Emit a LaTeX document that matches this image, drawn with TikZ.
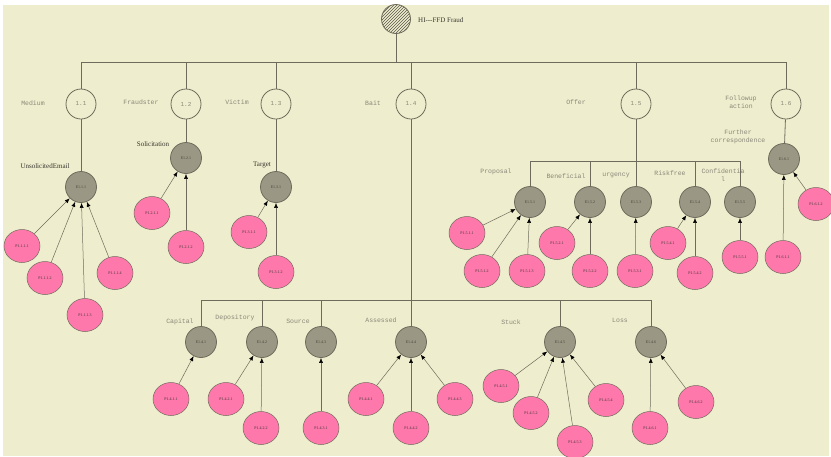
\documentclass[tikz,border=0pt]{standalone}
\usepackage{fontspec}
\usetikzlibrary{arrows.meta,patterns,shapes.geometric}
\definecolor{bg}{HTML}{EEEDCD}
\definecolor{ln}{HTML}{6F6B5C}
\definecolor{gfill}{HTML}{9A9884}
\definecolor{pfill}{HTML}{FF78AC}
\definecolor{lab}{HTML}{8A887A}
\newfontfamily\labfont{Liberation Mono}
\newfontfamily\serfont{Liberation Serif}
\begin{document}
\begin{tikzpicture}[x=1pt,y=-1pt,
  lvone/.style={circle, draw=ln, line width=0.8pt, fill=bg, minimum size=30pt, inner sep=0pt, font=\labfont\fontsize{6}{6}\selectfont, text=lab},
  evt/.style={circle, draw=ln, line width=0.8pt, fill=gfill, minimum size=31pt, inner sep=0pt, font=\serfont\fontsize{4}{4}\selectfont, text=ln!60!black},
  leaf/.style={ellipse, draw=ln, line width=0.5pt, fill=pfill, minimum width=36pt, minimum height=33pt, inner sep=0pt, font=\serfont\fontsize{4}{4}\selectfont, text=ln!50!black},
  conn/.style={draw=ln, line width=0.8pt},
  arr/.style={draw=ln, line width=0.5pt, -{Latex[length=5pt,width=4pt,color=black]}},
  lbl/.style={font=\labfont\fontsize{6.5}{7.5}\selectfont, text=lab, align=center, inner sep=0pt},
  blbl/.style={font=\serfont\fontsize{7}{7}\selectfont, text=ln!50!black, inner sep=0pt}
]
\fill[white] (0,0) rectangle (831,456);
\fill[bg] (3,5) rectangle (829,456);
\useasboundingbox (0,0) rectangle (831,456);

% root
\node[circle, draw=ln, line width=0.8pt, minimum size=29pt, inner sep=0pt, pattern=north east lines, pattern color=ln!80!black] (root) at (396,19) {};
\node[blbl, anchor=west] (roottxt) at (418,20) {HI---FFD Fraud};

% bus level 1
\coordinate (b1) at (81,62);
\coordinate (b2) at (186,62);
\coordinate (b3) at (276,62);
\coordinate (b4) at (411,62);
\coordinate (b5) at (636,62);
\coordinate (b6) at (786,62);
\coordinate (br) at (396,62);
\draw[conn] (b1) -- (b6);
\draw[conn] (root) -- (br);

% level 1 nodes
\node[lvone] (n11) at (81,104) {1.1};
\node[lvone] (n12) at (186,104) {1.2};
\node[lvone] (n13) at (276,104) {1.3};
\node[lvone] (n14) at (411,104) {1.4};
\node[lvone] (n15) at (636,104) {1.5};
\node[lvone] (n16) at (786,104) {1.6};
\foreach \i in {1,...,6} {\draw[conn] (b\i) -- (n1\i);}

\node[lbl] (lmed) at (33,103) {Medium};
\node[lbl] (lfra) at (141,102) {Fraudster};
\node[lbl] (lvic) at (237,102) {Victim};
\node[lbl] (lbai) at (373,103) {Bait};
\node[lbl] (loff) at (576,102) {Offer};
\node[lbl] (lfol) at (741,102) {Followup\\action};
\node[lbl] (lfur) at (738,137) {Further\\correspondence};

% 1.1 branch
\node[evt] (e111) at (81,187) {E1.1.1};
\node[blbl] (luns) at (45,166) {UnsolicitedEmail};
\draw[conn] (n11) -- (e111);
\node[leaf] (p1111) at (22,246) {P1.1.1.1};
\node[leaf] (p1112) at (45,278) {P1.1.1.2};
\node[leaf] (p1113) at (85,315) {P1.1.1.3};
\node[leaf] (p1114) at (115,273) {P1.1.1.4};
\draw[arr] (p1111) -- (e111);
\draw[arr] (p1112) -- (e111);
\draw[arr] (p1113) -- (e111);
\draw[arr] (p1114) -- (e111);

% 1.2 branch
\node[evt] (e121) at (186,158) {E1.2.1};
\node[blbl] (lsol) at (153,144) {Solicitation};
\draw[conn] (n12) -- (e121);
\node[leaf] (p1211) at (152,213) {P1.2.1.1};
\node[leaf] (p1212) at (186,247) {P1.2.1.2};
\draw[arr] (p1211) -- (e121);
\draw[arr] (p1212) -- (e121);

% 1.3 branch
\node[evt] (e131) at (276,187) {E1.3.1};
\node[blbl] (ltar) at (262,165) {Target};
\draw[conn] (n13) -- (e131);
\node[leaf] (p1311) at (249,232) {P1.3.1.1};
\node[leaf] (p1312) at (276,272) {P1.3.1.2};
\draw[arr] (p1311) -- (e131);
\draw[arr] (p1312) -- (e131);

% 1.4 branch
\coordinate (c1) at (201,300);
\coordinate (c2) at (262,300);
\coordinate (c3) at (321,300);
\coordinate (c4) at (411,300);
\coordinate (c5) at (560,300);
\coordinate (c6) at (651,300);
\draw[conn] (n14) -- (c4);
\draw[conn] (c1) -- (c6);
\node[evt] (e141) at (201,342) {E1.4.1};
\node[evt] (e142) at (262,342) {E1.4.2};
\node[evt] (e143) at (321,342) {E1.4.3};
\node[evt] (e144) at (411,342) {E1.4.4};
\node[evt] (e145) at (560,342) {E1.4.5};
\node[evt] (e146) at (651,342) {E1.4.6};
\foreach \i in {1,...,6} {\draw[conn] (c\i) -- (e14\i);}
\node[lbl] (lcap) at (180,322) {Capital};
\node[lbl] (ldep) at (235,318) {Depository};
\node[lbl] (lsou) at (298,321) {Source};
\node[lbl] (lass) at (381,320) {Assessed};
\node[lbl] (lstu) at (511,322) {Stuck};
\node[lbl] (llos) at (620,320) {Loss};

\node[leaf] (p1411) at (171,399) {P1.4.1.1};
\draw[arr] (p1411) -- (e141);
\node[leaf] (p1421) at (226,399) {P1.4.2.1};
\node[leaf] (p1422) at (261,428) {P1.4.2.2};
\draw[arr] (p1421) -- (e142);
\draw[arr] (p1422) -- (e142);
\node[leaf] (p1431) at (321,428) {P1.4.3.1};
\draw[arr] (p1431) -- (e143);
\node[leaf] (p1441) at (366,399) {P1.4.4.1};
\node[leaf] (p1442) at (411,428) {P1.4.4.2};
\node[leaf] (p1443) at (455,399) {P1.4.4.3};
\draw[arr] (p1441) -- (e144);
\draw[arr] (p1442) -- (e144);
\draw[arr] (p1443) -- (e144);
\node[leaf] (p1451) at (501,386) {P1.4.5.1};
\node[leaf] (p1452) at (531,413) {P1.4.5.2};
\node[leaf] (p1453) at (575,442) {P1.4.5.3};
\node[leaf] (p1454) at (606,400) {P1.4.5.4};
\draw[arr] (p1451) -- (e145);
\draw[arr] (p1452) -- (e145);
\draw[arr] (p1453) -- (e145);
\draw[arr] (p1454) -- (e145);
\node[leaf] (p1461) at (650,428) {P1.4.6.1};
\node[leaf] (p1462) at (696,402) {P1.4.6.2};
\draw[arr] (p1461) -- (e146);
\draw[arr] (p1462) -- (e146);

% 1.5 branch
\coordinate (d1) at (530,161);
\coordinate (d2) at (590,161);
\coordinate (d3) at (636,161);
\coordinate (d4) at (695,161);
\coordinate (d5) at (740,161);
\draw[conn] (n15) -- (d3);
\draw[conn] (d1) -- (d5);
\node[evt] (e151) at (530,202) {E1.5.1};
\node[evt] (e152) at (590,202) {E1.5.2};
\node[evt] (e153) at (636,202) {E1.5.3};
\node[evt] (e154) at (695,202) {E1.5.4};
\node[evt] (e155) at (740,202) {E1.5.5};
\foreach \i in {1,...,5} {\draw[conn] (d\i) -- (e15\i);}
\node[lbl] (lpro) at (496,172) {Proposal};
\node[lbl] (lben) at (566,176) {Beneficial};
\node[lbl] (lurg) at (616,175) {urgency};
\node[lbl] (lris) at (670,173) {Riskfree};
\node[lbl] (lcon) at (723,175) {Confidentia\\l};

\node[leaf] (p1511) at (467,233) {P1.5.1.1};
\node[leaf] (p1512) at (482,271) {P1.5.1.2};
\node[leaf] (p1513) at (527,271) {P1.5.1.3};
\draw[arr] (p1511) -- (e151);
\draw[arr] (p1512) -- (e151);
\draw[arr] (p1513) -- (e151);
\node[leaf] (p1521) at (557,243) {P1.5.2.1};
\node[leaf] (p1522) at (590,271) {P1.5.2.2};
\draw[arr] (p1521) -- (e152);
\draw[arr] (p1522) -- (e152);
\node[leaf] (p1531) at (635,271) {P1.5.3.1};
\draw[arr] (p1531) -- (e153);
\node[leaf] (p1541) at (668,243) {P1.5.4.1};
\node[leaf] (p1542) at (695,273) {P1.5.4.2};
\draw[arr] (p1541) -- (e154);
\draw[arr] (p1542) -- (e154);
\node[leaf] (p1551) at (740,257) {P1.5.5.1};
\draw[arr] (p1551) -- (e155);

% 1.6 branch
\node[evt] (e161) at (784,159) {E1.6.1};
\draw[conn] (n16) -- (e161);
\node[leaf] (p1611) at (783,257) {P1.6.1.1};
\node[leaf] (p1612) at (816,204) {P1.6.1.2};
\draw[arr] (p1611) -- (e161);
\draw[arr] (p1612) -- (e161);
\end{tikzpicture}
\end{document}
